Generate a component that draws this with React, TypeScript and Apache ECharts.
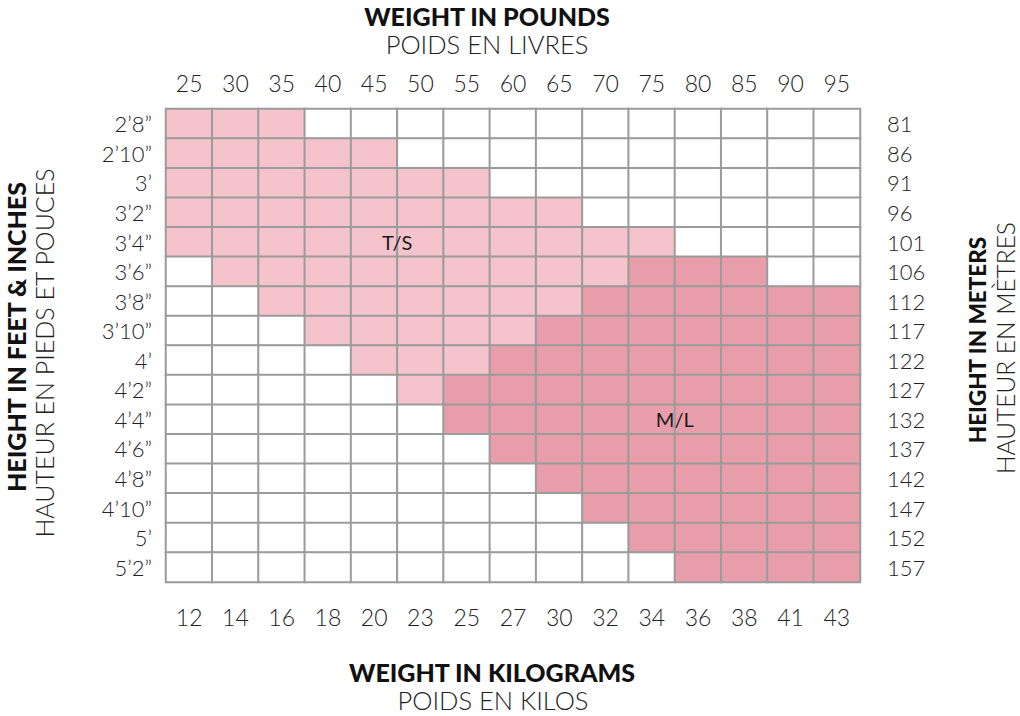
import React, { useEffect, useRef } from "react";
import * as echarts from "echarts";

const poundLabels = ["25", "30", "35", "40", "45", "50", "55", "60", "65", "70", "75", "80", "85", "90", "95"];
const kiloLabels = ["12", "14", "16", "18", "20", "23", "25", "27", "30", "32", "34", "36", "38", "41", "43"];
const feetLabels = ["2’8”", "2’10”", "3’", "3’2”", "3’4”", "3’6”", "3’8”", "3’10”", "4’", "4’2”", "4’4”", "4’6”", "4’8”", "4’10”", "5’", "5’2”"];
const meterLabels = ["81", "86", "91", "96", "101", "106", "112", "117", "122", "127", "132", "137", "142", "147", "152", "157"];

// 0 = none, 1 = T/S, 2 = M/L ; one row per height, one column per weight
const sizeRows = [
  [1, 1, 1, 0, 0, 0, 0, 0, 0, 0, 0, 0, 0, 0, 0],
  [1, 1, 1, 1, 1, 0, 0, 0, 0, 0, 0, 0, 0, 0, 0],
  [1, 1, 1, 1, 1, 1, 1, 0, 0, 0, 0, 0, 0, 0, 0],
  [1, 1, 1, 1, 1, 1, 1, 1, 1, 0, 0, 0, 0, 0, 0],
  [1, 1, 1, 1, 1, 1, 1, 1, 1, 1, 1, 0, 0, 0, 0],
  [0, 1, 1, 1, 1, 1, 1, 1, 1, 1, 2, 2, 2, 0, 0],
  [0, 0, 1, 1, 1, 1, 1, 1, 1, 2, 2, 2, 2, 2, 2],
  [0, 0, 0, 1, 1, 1, 1, 1, 2, 2, 2, 2, 2, 2, 2],
  [0, 0, 0, 0, 1, 1, 1, 2, 2, 2, 2, 2, 2, 2, 2],
  [0, 0, 0, 0, 0, 1, 2, 2, 2, 2, 2, 2, 2, 2, 2],
  [0, 0, 0, 0, 0, 0, 2, 2, 2, 2, 2, 2, 2, 2, 2],
  [0, 0, 0, 0, 0, 0, 0, 2, 2, 2, 2, 2, 2, 2, 2],
  [0, 0, 0, 0, 0, 0, 0, 0, 2, 2, 2, 2, 2, 2, 2],
  [0, 0, 0, 0, 0, 0, 0, 0, 0, 2, 2, 2, 2, 2, 2],
  [0, 0, 0, 0, 0, 0, 0, 0, 0, 0, 2, 2, 2, 2, 2],
  [0, 0, 0, 0, 0, 0, 0, 0, 0, 0, 0, 2, 2, 2, 2],
];

const sizeNames = [
  { row: 4, col: 4, text: "T/S" },
  { row: 10, col: 10, text: "M/L" },
];

const sizeColors = ["#ffffff", "#f5c3cc", "#e89dab"];

const FONT = "Lato";

export default function App() {
  const ref = useRef<HTMLDivElement>(null);
  useEffect(() => {
    if (!ref.current) return;
    const chart = echarts.init(ref.current, undefined, { renderer: "svg" });

    const data: any[] = [];
    sizeRows.forEach((row, r) => {
      row.forEach((v, c) => {
        const name = sizeNames.find((n) => n.row === r && n.col === c);
        const item: any = { value: [c, r, v] };
        if (name) {
          item.label = {
            show: true,
            formatter: name.text,
            offset: [23, 0],
            fontFamily: FONT,
            fontSize: 20,
            color: "#1a1a1a",
          };
        }
        data.push(item);
      });
    });

    const axisLabelBase = { fontFamily: FONT, fontWeight: 300, fontSize: 22, color: "#222" };

    const title = (text: string, x: number, y: number, size: number, bold: boolean, rotate = false) => ({
      type: "text",
      x,
      y,
      rotation: rotate ? Math.PI / 2 : 0,
      style: {
        text,
        fontFamily: FONT,
        fontWeight: bold ? 900 : 300,
        fontSize: size,
        fill: bold ? "#111" : "#222",
        align: "center",
        verticalAlign: "middle",
      },
    });

    chart.setOption({
      animation: false,
      backgroundColor: "#ffffff",
      grid: { left: 166, right: 160, top: 109, bottom: 134 },
      xAxis: [
        {
          type: "category",
          position: "top",
          data: poundLabels,
          axisLine: { show: false },
          axisTick: { show: false },
          splitLine: { show: false },
          axisLabel: { ...axisLabelBase, fontSize: 23, margin: 15 },
        },
        {
          type: "category",
          position: "bottom",
          data: kiloLabels,
          axisLine: { show: false },
          axisTick: { show: false },
          axisLabel: { ...axisLabelBase, fontSize: 23, margin: 23 },
        },
      ],
      yAxis: [
        {
          type: "category",
          position: "left",
          inverse: true,
          data: feetLabels,
          axisLine: { show: false },
          axisTick: { show: false },
          axisLabel: { ...axisLabelBase, margin: 14 },
        },
        {
          type: "category",
          position: "right",
          inverse: true,
          data: meterLabels,
          axisLine: { show: false },
          axisTick: { show: false },
          axisLabel: { ...axisLabelBase, margin: 27, align: "left" },
        },
      ],
      visualMap: {
        show: false,
        type: "piecewise",
        dimension: 2,
        pieces: [
          { value: 0, color: sizeColors[0] },
          { value: 1, color: sizeColors[1] },
          { value: 2, color: sizeColors[2] },
        ],
      },
      series: [
        {
          type: "heatmap",
          xAxisIndex: 0,
          yAxisIndex: 0,
          data,
          label: { show: false },
          itemStyle: { borderColor: "#9b9b9b", borderWidth: 2 },
          emphasis: { disabled: true },
        },
      ],
      graphic: [
        title("WEIGHT IN POUNDS", 487, 16, 25, true),
        title("POIDS EN LIVRES", 487, 44, 25.5, false),
        title("WEIGHT IN KILOGRAMS", 492, 672, 25, true),
        title("POIDS EN KILOS", 493, 700, 25.5, false),
        title("HEIGHT IN FEET & INCHES", 16, 337, 25, true, true),
        title("HAUTEUR EN PIEDS ET POUCES", 44, 353, 25, false, true),
        title("HEIGHT IN METERS", 977, 340, 22.5, true, true),
        title("HAUTEUR EN MÈTRES", 1005, 348, 24.5, false, true),
      ],
    });
    return () => chart.dispose();
  }, []);
  return <div ref={ref} style={{ position: "absolute", left: 0, top: 0, width: 1020, height: 716 }} />;
}
